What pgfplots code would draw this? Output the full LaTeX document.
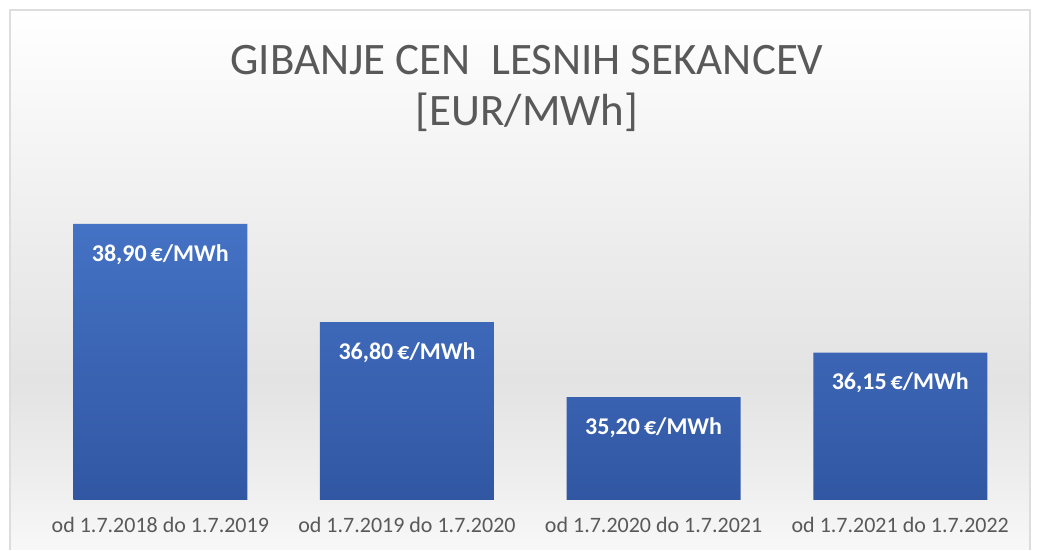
\documentclass[border=0pt]{standalone}
\usepackage{pgfplots}
\pgfplotsset{compat=1.18}
\usepackage{fontspec}
\setmainfont{Carlito}
\definecolor{titlegray}{HTML}{595959}
\definecolor{bartop}{HTML}{4472C4}
\definecolor{barbot}{HTML}{3157A3}
\definecolor{bgA}{HTML}{F8F8F8}
\definecolor{bgB}{HTML}{EEEEEE}
\definecolor{bgC}{HTML}{E3E3E3}
\definecolor{bgD}{HTML}{ECECEC}
\definecolor{bgE}{HTML}{F4F4F4}
\definecolor{frame}{HTML}{DDDDDD}
\pgfdeclareverticalshading{chartbg}{100bp}{color(0bp)=(bgA); color(25bp)=(bgA); color(31.5bp)=(bgB); color(40.7bp)=(bgC); color(52.8bp)=(bgD); color(62bp)=(bgE); color(75bp)=(white); color(100bp)=(white)}
\begin{document}
\begin{tikzpicture}
\fill[white] (0,0) rectangle (519.5pt,275pt);
\shade[shading=chartbg] (5pt,0) rectangle (515pt,270pt);
\draw[frame, line width=0.8pt] (5pt,0) -- (5pt,270pt) -- (515pt,270pt) -- (515pt,0);
\node[font=\fontsize{22.5}{27}\selectfont, text=titlegray, anchor=base] at (263.5pt,237.5pt) {GIBANJE CEN\ \ LESNIH SEKANCEV};
\node[font=\fontsize{22.5}{27}\selectfont, text=titlegray, anchor=base] at (263.5pt,212pt) {[EUR/MWh]};
\begin{axis}[
  at={(18.5pt,25pt)}, anchor=south west,
  scale only axis,
  width=493.3pt, height=163.8pt,
  xmin=-0.5, xmax=3.5,
  ymin=33, ymax=40,
  ybar, bar width=87pt,
  axis line style={draw=none},
  hide y axis,
  major tick length=0pt,
  xtick=data,
  xticklabels={od 1.7.2018 do 1.7.2019, od 1.7.2019 do 1.7.2020, od 1.7.2020 do 1.7.2021, od 1.7.2021 do 1.7.2022},
  xticklabel style={font=\fontsize{11}{13}\selectfont, text=titlegray, yshift=-5pt},
  /pgf/number format/assume math mode=true,
  clip=false,
]
\addplot[draw=none, top color=bartop, bottom color=barbot,
  nodes near coords={\pgfmathprintnumber[fixed,fixed zerofill,precision=2,use comma,assume math mode=true]{\pgfplotspointmeta}\,€/MWh},
  every node near coord/.append style={anchor=north, yshift=-10pt, inner sep=0pt, text=white, font=\fontsize{12}{14}\selectfont\bfseries}]
  coordinates {(0,38.90) (1,36.80) (2,35.20) (3,36.15)};
\end{axis}
\end{tikzpicture}
\end{document}
